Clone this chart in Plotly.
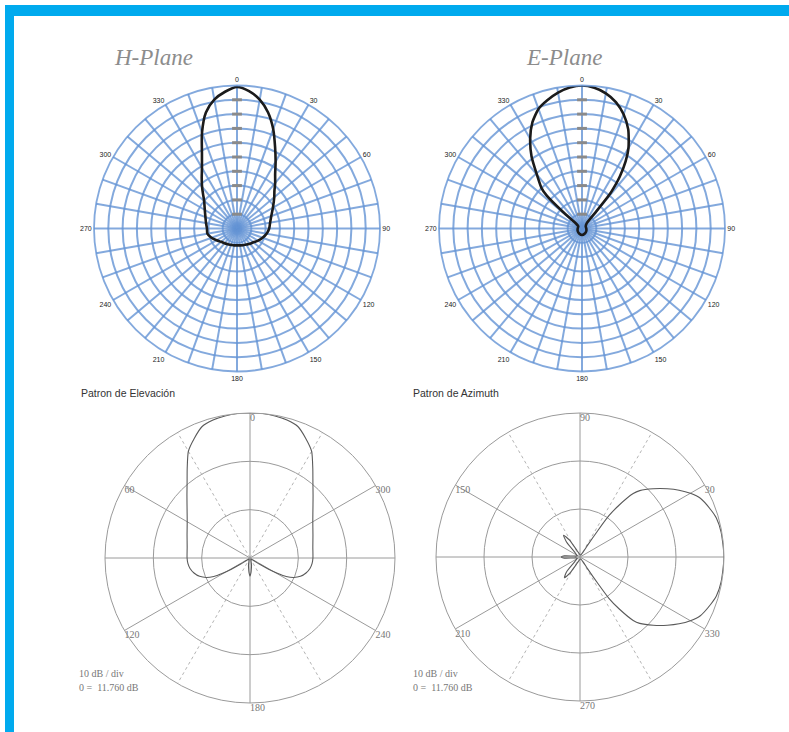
import plotly.graph_objects as go

W, H = 789, 732

# ---------------- data ----------------
# H-Plane pattern (clockwise from top, relative amplitude)
H_THETA = [0, 5, 10, 15, 20, 25, 30, 35, 40, 45, 50, 60, 70, 80, 90, 100, 110, 120, 130, 140,
           150, 160, 170, 180, 190, 200, 210, 220, 230, 240, 250, 260, 270, 280, 290, 300,
           310, 315, 320, 325, 330, 335, 340, 345, 350, 355, 360]
H_R = [0.99, 0.965, 0.915, 0.84, 0.74, 0.63, 0.54, 0.465, 0.415, 0.37, 0.34, 0.29, 0.255, 0.235,
       0.225, 0.21, 0.19, 0.17, 0.15, 0.14, 0.13, 0.125, 0.12, 0.118, 0.12, 0.122, 0.128, 0.135,
       0.145, 0.165, 0.19, 0.21, 0.21, 0.22, 0.235, 0.26, 0.30, 0.335, 0.38, 0.43, 0.49, 0.58,
       0.715, 0.84, 0.915, 0.96, 0.99]

# E-Plane pattern (clockwise from top)
E_THETA = [0, 5, 10, 15, 20, 25, 30, 33, 36, 38, 39, 40, 42, 60, 90, 120, 150, 180, 210, 240,
           270, 300, 309, 311, 313, 315, 320, 325, 330, 335, 340, 345, 350, 355, 360]
E_R = [1.0, 0.988, 0.96, 0.915, 0.85, 0.765, 0.65, 0.56, 0.45, 0.36, 0.31, 0.15, 0.05, 0.03,
       0.03, 0.035, 0.04, 0.045, 0.04, 0.035, 0.03, 0.03, 0.05, 0.17, 0.337, 0.40, 0.49, 0.615,
       0.725, 0.82, 0.89, 0.93, 0.965, 0.99, 1.0]

# Elevation pattern (counter-clockwise from top)
EL_THETA = [0, 5, 10, 15, 20, 25, 30, 35, 40, 45, 50, 60, 70, 80, 90, 95, 100, 105, 110, 114,
            117, 119, 121, 123, 126, 140, 160, 168, 172, 176, 180, 184, 188, 192, 200, 220, 234,
            237, 239, 241, 243, 246, 250, 255, 260, 265, 270, 280, 290, 300, 310, 315, 320, 325,
            330, 335, 340, 345, 350, 355, 360]
EL_R = [1.0, 1.0, 0.995, 0.985, 0.965, 0.91, 0.85, 0.755, 0.675, 0.615, 0.567, 0.50, 0.462, 0.44,
        0.434, 0.43, 0.42, 0.40, 0.37, 0.33, 0.28, 0.22, 0.15, 0.08, 0.03, 0.01, 0.02, 0.05, 0.07,
        0.10, 0.125, 0.10, 0.07, 0.05, 0.02, 0.01, 0.03, 0.08, 0.15, 0.22, 0.28, 0.33, 0.37, 0.40,
        0.42, 0.43, 0.434, 0.44, 0.462, 0.50, 0.567, 0.615, 0.675, 0.755, 0.85, 0.91, 0.965, 0.985,
        0.995, 1.0, 1.0]

# Azimuth pattern (counter-clockwise from east)
AZ_THETA = [0, 10, 16, 20, 26, 30, 34, 38, 43, 48, 50, 53, 55, 56, 57, 58, 70, 100, 115, 122,
            127, 132, 138, 160, 172, 176, 180, 184, 188, 200, 222, 228, 233, 238, 245, 260, 290,
            302, 303, 304, 305, 307, 310, 312, 317, 322, 326, 330, 334, 340, 344, 350, 360]
AZ_R = [1.0, 0.995, 0.985, 0.965, 0.93, 0.885, 0.83, 0.77, 0.695, 0.62, 0.575, 0.45, 0.35, 0.22,
        0.10, 0.04, 0.015, 0.02, 0.05, 0.14, 0.19, 0.14, 0.05, 0.02, 0.05, 0.11, 0.13, 0.11, 0.05,
        0.02, 0.05, 0.14, 0.18, 0.13, 0.05, 0.02, 0.015, 0.04, 0.10, 0.22, 0.35, 0.45, 0.575,
        0.62, 0.695, 0.77, 0.83, 0.885, 0.93, 0.965, 0.985, 0.995, 1.0]

# tick / label texts
TOP_TICKS = list(range(0, 360, 10))
TOP_TICKTEXT = [str(v) if v % 30 == 0 else "" for v in TOP_TICKS]
EL_LABELS = ["0", "60", "120", "180", "240", "300"]
EL_LABEL_THETA = [0, 60, 120, 180, 240, 300]
AZ_LABELS = ["30", "90", "150", "210", "270", "330"]
AZ_LABEL_THETA = [30, 90, 150, 210, 270, 330]
EL_SOLID = [0, 60, 90, 120, 180, 240, 270, 300]
EL_DASHED = [30, 150, 210, 330]
AZ_SOLID = [0, 30, 90, 150, 180, 210, 270, 330]
AZ_DASHED = [60, 120, 240, 300]
TOP_RINGS = [0.1, 0.2, 0.3, 0.4, 0.5, 0.6, 0.7, 0.8, 0.9]
BOTTOM_RINGS = [1 / 3, 2 / 3]


def dom(cx, cy, r):
    return dict(x=[(cx - r) / W, (cx + r) / W], y=[1 - (cy + r) / H, 1 - (cy - r) / H])


def spokes(angles):
    rr, tt = [], []
    for a in angles:
        rr += [0, 1, None]
        tt += [a, a, None]
    return rr, tt


fig = go.Figure()

# top patterns
fig.add_trace(go.Scatterpolar(r=H_R, theta=H_THETA, mode="lines", subplot="polar",
                              line=dict(color="#1b1b1b", width=2.6, shape="spline", smoothing=0.8),
                              hoverinfo="skip"))
fig.add_trace(go.Scatterpolar(r=E_R, theta=E_THETA, mode="lines", subplot="polar2",
                              line=dict(color="#1b1b1b", width=2.6, shape="spline", smoothing=0.6),
                              hoverinfo="skip"))

# ring markers along the 0-degree axis of the top charts (drawn above the grid)
for sp in ["polar", "polar2"]:
    fig.add_trace(go.Scatterpolar(r=TOP_RINGS, theta=[0] * len(TOP_RINGS),
                                  mode="markers", subplot=sp, hoverinfo="skip",
                                  marker=dict(symbol="line-ew-open", size=7, color="#8a8a8a",
                                              line=dict(color="#8a8a8a", width=3))))

# bottom grids and patterns
for sp, solid, dashed, th, rv, labs, labth in [
        ("polar3", EL_SOLID, EL_DASHED, EL_THETA, EL_R, EL_LABELS, EL_LABEL_THETA),
        ("polar4", AZ_SOLID, AZ_DASHED, AZ_THETA, AZ_R, AZ_LABELS, AZ_LABEL_THETA)]:
    r1, t1 = spokes(dashed)
    fig.add_trace(go.Scatterpolar(r=r1, theta=t1, mode="lines", subplot=sp,
                                  line=dict(color="#b4b4b4", width=1, dash="dot"), hoverinfo="skip"))
    r2, t2 = spokes(solid)
    fig.add_trace(go.Scatterpolar(r=r2, theta=t2, mode="lines", subplot=sp,
                                  line=dict(color="#9a9a9a", width=1), hoverinfo="skip"))
    fig.add_trace(go.Scatterpolar(r=rv, theta=th, mode="lines", subplot=sp,
                                  line=dict(color="#5a5a5a", width=1.1, shape="spline", smoothing=0.6),
                                  hoverinfo="skip"))
    fig.add_trace(go.Scatterpolar(r=[1] * len(labs), theta=labth, mode="text", text=labs,
                                  textposition="bottom right", subplot=sp, hoverinfo="skip",
                                  textfont=dict(family="Liberation Serif", size=10, color="#777777")))

blue = "rgba(100,148,212,0.8)"
top_angular = dict(rotation=90, direction="clockwise", tickmode="array", tickvals=TOP_TICKS,
                   ticktext=TOP_TICKTEXT, showgrid=True, gridcolor=blue, gridwidth=1.7,
                   showline=True, linecolor=blue, linewidth=1.8, ticks="",
                   tickfont=dict(family="Liberation Sans", size=7, color="#222222"))
top_radial = dict(range=[0, 1], tickmode="array", tickvals=TOP_RINGS, showticklabels=False,
                  showgrid=True, gridcolor=blue, gridwidth=1.7, showline=False, angle=90,
                  ticks="")

bot_radial = dict(range=[0, 1], tickmode="array", tickvals=BOTTOM_RINGS, showticklabels=False,
                  showgrid=True, gridcolor="#9a9a9a", gridwidth=1, showline=False, ticks="")


def bot_angular(rot, direction):
    return dict(rotation=rot, direction=direction, showgrid=False, showticklabels=False,
                ticks="", showline=True, linecolor="#9a9a9a", linewidth=1)


fig.update_layout(
    width=W, height=H, margin=dict(l=0, r=0, t=0, b=0),
    paper_bgcolor="white", showlegend=False,
    polar=dict(domain=dom(237, 228.5, 143), bgcolor="white",
               angularaxis=top_angular, radialaxis=top_radial),
    polar2=dict(domain=dom(582, 228.5, 143), bgcolor="white",
                angularaxis=top_angular, radialaxis=top_radial),
    polar3=dict(domain=dom(250, 558, 145), bgcolor="white",
                angularaxis=bot_angular(90, "counterclockwise"), radialaxis=bot_radial),
    polar4=dict(domain=dom(580, 557, 144), bgcolor="white",
                angularaxis=bot_angular(0, "counterclockwise"), radialaxis=bot_radial),
)

cyan = "#00aaee"
fig.add_shape(type="rect", xref="paper", yref="paper", x0=5 / W, x1=1, y0=1 - 16 / H, y1=1 - 5 / H,
              fillcolor=cyan, line=dict(width=0))
fig.add_shape(type="rect", xref="paper", yref="paper", x0=5 / W, x1=14 / W, y0=0, y1=1 - 5 / H,
              fillcolor=cyan, line=dict(width=0))


def note(text, x, y, family, size, color):
    fig.add_annotation(text=text, x=x / W, y=1 - y / H, xref="paper", yref="paper",
                       xanchor="left", yanchor="middle", showarrow=False,
                       font=dict(family=family, size=size, color=color))


note("<i>H-Plane</i>", 112, 57, "Liberation Serif", 23, "#8c8c8c")
note("<i>E-Plane</i>", 524, 57, "Liberation Serif", 23, "#8c8c8c")
note("Patron de Elevación", 79, 393, "Liberation Sans", 10.5, "#333333")
note("Patron de Azimuth", 411, 393, "Liberation Sans", 10.5, "#333333")
note("10 dB / div", 77, 673, "Liberation Serif", 10, "#777777")
note("0 =  11.760 dB", 77, 687, "Liberation Serif", 10, "#777777")
note("10 dB / div", 411, 673, "Liberation Serif", 10, "#777777")
note("0 =  11.760 dB", 411, 687, "Liberation Serif", 10, "#777777")

fig.write_html("out.html")
